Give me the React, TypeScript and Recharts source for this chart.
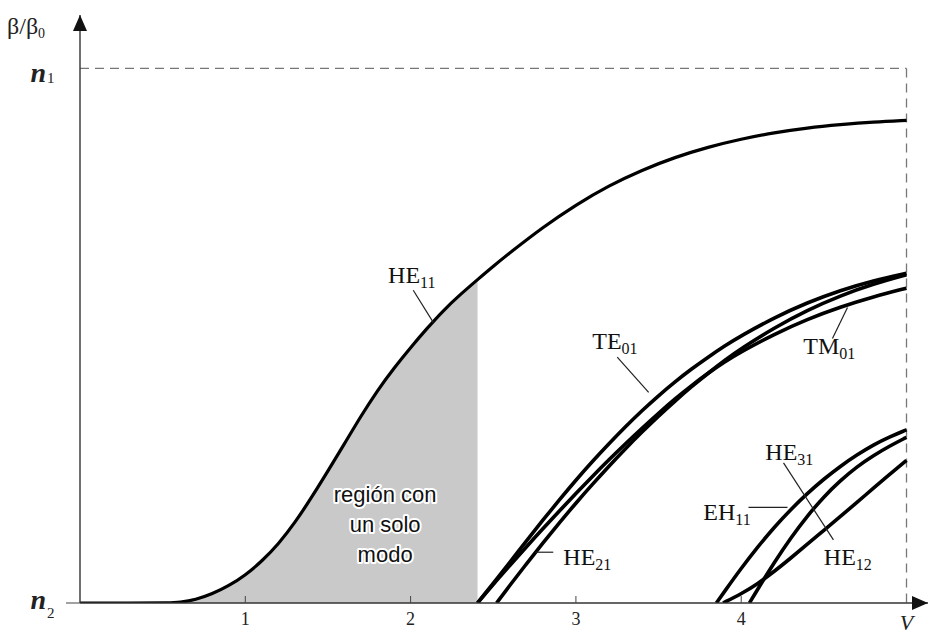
import React from 'react';
import {
  ComposedChart,
  Line,
  Area,
  XAxis,
  YAxis,
  ReferenceLine,
  ReferenceDot,
} from 'recharts';

// normalised propagation constant b = (β/β0 - n2) / (n1 - n2) against V
const he11V = [0, 0.3, 0.55, 0.6, 0.7, 0.8, 0.9, 1.0, 1.1, 1.2, 1.3, 1.4, 1.5, 1.6, 1.7, 1.8, 1.9, 2.0, 2.1, 2.2, 2.3, 2.405, 2.5, 2.6, 2.8, 3.0, 3.2, 3.4, 3.6, 3.8, 4.0, 4.2, 4.4, 4.6, 4.8, 5.0];
const he11B = [0, 0, 0, 0.001, 0.006, 0.017, 0.032, 0.052, 0.078, 0.11, 0.15, 0.197, 0.247, 0.298, 0.35, 0.398, 0.44, 0.478, 0.514, 0.548, 0.577, 0.605, 0.63, 0.655, 0.703, 0.745, 0.781, 0.81, 0.834, 0.853, 0.868, 0.88, 0.889, 0.895, 0.9, 0.903];

const te01V = [2.405, 2.5, 2.6, 2.7, 2.8, 2.9, 3.0, 3.1, 3.2, 3.3, 3.4, 3.5, 3.6, 3.7, 3.8, 3.9, 4.0, 4.2, 4.4, 4.6, 4.8, 5.0];
const te01B = [0, 0.037, 0.076, 0.116, 0.155, 0.193, 0.23, 0.265, 0.298, 0.33, 0.36, 0.388, 0.414, 0.438, 0.46, 0.481, 0.5, 0.534, 0.562, 0.585, 0.603, 0.617];

const tm01V = [2.405, 2.5, 2.6, 2.7, 2.8, 2.9, 3.0, 3.1, 3.2, 3.3, 3.4, 3.5, 3.6, 3.7, 3.8, 3.9, 4.0, 4.2, 4.4, 4.6, 4.8, 5.0];
const tm01B = [0, 0.035, 0.07, 0.105, 0.139, 0.172, 0.205, 0.237, 0.268, 0.298, 0.327, 0.355, 0.382, 0.407, 0.43, 0.451, 0.47, 0.503, 0.531, 0.554, 0.573, 0.589];

const he21V = [2.52, 2.6, 2.7, 2.8, 2.9, 3.0, 3.1, 3.2, 3.3, 3.4, 3.5, 3.6, 3.7, 3.8, 3.9, 4.0, 4.2, 4.4, 4.6, 4.8, 5.0];
const he21B = [0, 0.033, 0.073, 0.112, 0.15, 0.187, 0.222, 0.256, 0.289, 0.32, 0.35, 0.378, 0.405, 0.43, 0.454, 0.476, 0.515, 0.548, 0.575, 0.597, 0.614];

const eh11V = [3.85, 3.9, 4.0, 4.1, 4.2, 4.3, 4.4, 4.5, 4.6, 4.7, 4.8, 4.9, 5.0];
const eh11B = [0, 0.022, 0.065, 0.105, 0.142, 0.175, 0.205, 0.232, 0.256, 0.277, 0.296, 0.311, 0.324];

const he31V = [4.05, 4.1, 4.2, 4.3, 4.4, 4.5, 4.6, 4.7, 4.8, 4.9, 5.0];
const he31B = [0, 0.026, 0.076, 0.122, 0.163, 0.199, 0.229, 0.255, 0.276, 0.294, 0.31];

const he12V = [3.89, 4.0, 4.1, 4.2, 4.3, 4.4, 4.5, 4.6, 4.7, 4.8, 4.9, 5.0];
const he12B = [0, 0.017, 0.036, 0.059, 0.084, 0.11, 0.136, 0.162, 0.188, 0.215, 0.241, 0.267];

const cutoffSingleMode = 2.405;
const xTicks = [1, 2, 3, 4, 5];
const yTicks = [0, 1];

const toPoints = (vs: number[], bs: number[]) => vs.map((v, i) => ({ v, b: bs[i] }));

const he11 = toPoints(he11V, he11B);
const singleMode = he11.filter((p) => p.v <= cutoffSingleMode);

const modes = [
  he11,
  toPoints(te01V, te01B),
  toPoints(tm01V, tm01B),
  toPoints(he21V, he21B),
  toPoints(eh11V, eh11B),
  toPoints(he31V, he31B),
  toPoints(he12V, he12B),
];

// mode name labels: [main, subscript, V, b]
const labels: [string, string, number, number][] = [
  ['HE', '11', 1.864, 0.598],
  ['TE', '01', 3.099, 0.476],
  ['HE', '21', 2.924, 0.071],
  ['TM', '01', 4.376, 0.465],
  ['EH', '11', 3.771, 0.155],
  ['HE', '31', 4.146, 0.267],
  ['HE', '12', 4.5, 0.071],
];

// leader lines from labels to curves
const leaders: [number, number, number, number][] = [
  [2.016, 0.585, 2.137, 0.525],
  [3.25, 0.46, 3.44, 0.394],
  [2.754, 0.095, 2.863, 0.095],
  [4.552, 0.495, 4.643, 0.553],
  [4.044, 0.179, 4.28, 0.179],
  [4.256, 0.262, 4.558, 0.118],
];

const regionLines = ['región con', 'un solo', 'modo'];

const SERIF = '"Liberation Serif", "DejaVu Serif", serif';
const SANS = '"Liberation Sans", Arial, sans-serif';

const XTick = (props: any) => {
  const { x, y, payload } = props;
  if (payload.value === 5) {
    return (
      <text x={x} y={y + 27} textAnchor="middle" fontFamily={SERIF} fontStyle="italic" fontSize={22} fill="#222">
        V
      </text>
    );
  }
  return (
    <g>
      <line x1={x} x2={x} y1={y - 7} y2={y} stroke="#444" strokeWidth={1} />
      <text x={x} y={y + 22} textAnchor="middle" fontFamily={SERIF} fontSize={18} fill="#222">
        {payload.value}
      </text>
    </g>
  );
};

const YTick = (props: any) => {
  const { x, y, payload } = props;
  const top = payload.value === 1;
  return (
    <g>
      {!top && <line x1={x - 14} x2={x} y1={y} y2={y} stroke="#444" strokeWidth={1} />}
      <text
        x={x - 34}
        y={y + (top ? 14 : 6)}
        textAnchor="end"
        fontFamily={SERIF}
        fontStyle="italic"
        fontWeight="bold"
        fontSize={28}
        fill="#222"
      >
        n
      </text>
      <text x={x - 33} y={y + 15} fontFamily={SERIF} fontSize={15} fill="#222">
        {top ? '1' : '2'}
      </text>
    </g>
  );
};

export default function App() {
  return (
    <div style={{ position: 'absolute', left: 0, top: 0, background: '#fff' }}>
      <ComposedChart width={929} height={635} margin={{ top: 15, right: 1, bottom: 0, left: 0 }}>
        <XAxis
          type="number"
          dataKey="v"
          domain={[0, 5.13]}
          ticks={xTicks}
          height={32}
          tickSize={0}
          tickMargin={0}
          tick={<XTick />}
          axisLine={{ stroke: '#333', strokeWidth: 1.4 }}
          tickLine={false}
          allowDataOverflow
        />
        <YAxis
          type="number"
          dataKey="b"
          domain={[0, 1.1]}
          ticks={yTicks}
          width={80}
          tickSize={0}
          tickMargin={0}
          tick={<YTick />}
          axisLine={{ stroke: '#333', strokeWidth: 1.4 }}
          tickLine={false}
          allowDataOverflow
        />

        <Area
          data={singleMode}
          dataKey="b"
          type="basis"
          fill="#c9c9c9"
          fillOpacity={1}
          stroke="none"
          isAnimationActive={false}
        />

        <ReferenceLine
          segment={[{ x: 0, y: 1 }, { x: 5, y: 1 }]}
          stroke="#777"
          strokeWidth={1.3}
          strokeDasharray="9 6"
          ifOverflow="visible"
        />
        <ReferenceLine
          segment={[{ x: 5, y: 1 }, { x: 5, y: 0 }]}
          stroke="#777"
          strokeWidth={1.3}
          strokeDasharray="9 6"
          ifOverflow="visible"
        />

        {modes.map((d, i) => (
          <Line
            key={i}
            data={d}
            dataKey="b"
            type="basis"
            stroke="#000"
            strokeWidth={i === 0 ? 3.2 : 3.6}
            dot={false}
            activeDot={false}
            isAnimationActive={false}
          />
        ))}

        {leaders.map(([x1, y1, x2, y2], i) => (
          <ReferenceLine
            key={'l' + i}
            segment={[{ x: x1, y: y1 }, { x: x2, y: y2 }]}
            stroke="#222"
            strokeWidth={1.2}
            ifOverflow="visible"
          />
        ))}

        {labels.map(([main, sub, v, b], i) => (
          <ReferenceDot
            key={'t' + i}
            x={v}
            y={b}
            r={0}
            ifOverflow="visible"
            shape={(p: any) => (
              <text x={p.cx} y={p.cy} fontFamily={SERIF} fontSize={24} fill="#111">
                {main}
                <tspan fontSize={16} dy={5}>
                  {sub}
                </tspan>
              </text>
            )}
          />
        ))}

        <ReferenceDot
          x={1.846}
          y={0.189}
          r={0}
          ifOverflow="visible"
          shape={(p: any) => (
            <text
              x={p.cx}
              y={p.cy}
              textAnchor="middle"
              fontFamily={SANS}
              fontSize={22}
              fill="#111"
              stroke="#fff"
              strokeWidth={4}
              strokeLinejoin="round"
              paintOrder="stroke"
            >
              {regionLines.map((t, i) => (
                <tspan key={i} x={p.cx} dy={i === 0 ? 0 : 30}>
                  {t}
                </tspan>
              ))}
            </text>
          )}
        />

        {/* axis arrowheads */}
        <ReferenceDot
          x={0}
          y={1.1}
          r={0}
          ifOverflow="visible"
          shape={(p: any) => (
            <polygon
              points={`${p.cx},${p.cy} ${p.cx - 7},${p.cy + 16} ${p.cx + 7},${p.cy + 16}`}
              fill="#111"
            />
          )}
        />
        <ReferenceDot
          x={5.13}
          y={0}
          r={0}
          ifOverflow="visible"
          shape={(p: any) => (
            <polygon
              points={`${p.cx},${p.cy} ${p.cx - 16},${p.cy - 7} ${p.cx - 16},${p.cy + 7}`}
              fill="#111"
            />
          )}
        />

        <ReferenceDot
          x={0}
          y={1.1}
          r={0}
          ifOverflow="visible"
          shape={(p: any) => (
            <text x={p.cx - 73} y={p.cy + 19} fontFamily={SERIF} fontSize={24} fill="#222">
              β/β
              <tspan fontSize={14} dy={4}>
                0
              </tspan>
            </text>
          )}
        />
      </ComposedChart>
    </div>
  );
}
